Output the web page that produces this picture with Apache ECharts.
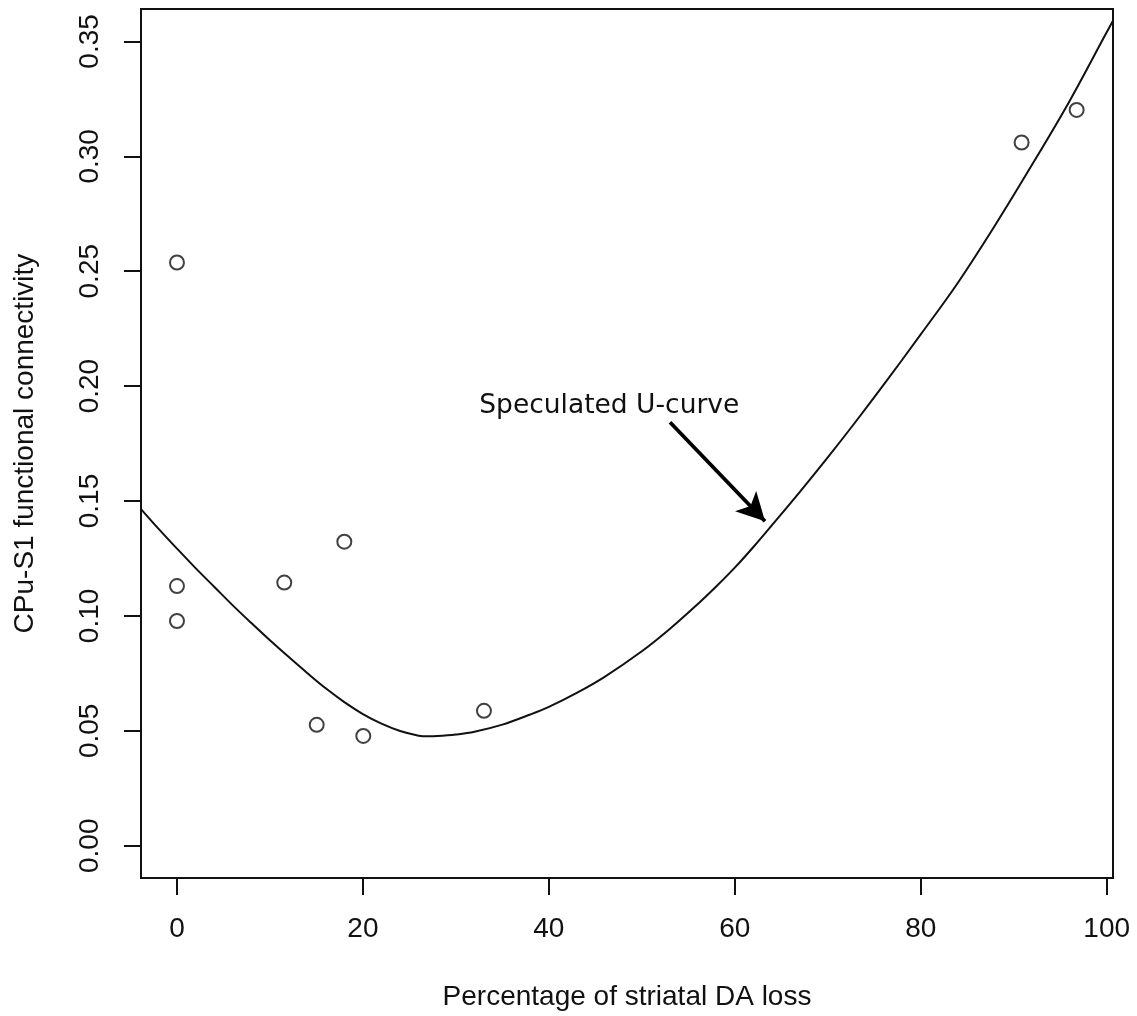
<!DOCTYPE html>
<html><head><meta charset="utf-8">
<script src="https://cdn.jsdelivr.net/npm/echarts@6/dist/echarts.min.js"></script>
<style>html,body{margin:0;padding:0;background:#fff}#c{width:1137px;height:1016px}</style>
</head><body><div id="c"></div>
<script>
// observed points
const pointsX = [0, 0, 0, 11.54, 15.03, 18.0, 20.04, 33.02, 90.85, 96.77];
const pointsY = [0.2538, 0.1130, 0.0978, 0.1145, 0.0526, 0.1323, 0.0478, 0.0587, 0.3060, 0.3202];
// speculated U-curve
const curveX = [-3.87,-2,0,2,4,6,8,10,12,14,16,18,20,22,24,26,27,28,30,32,35,38,40,43,46,50,53,56,58,60,62,64,67,70,73,76,80,84,88,92,96,100,100.68];
const curveY = [0.1465,0.1380,0.1293,0.1208,0.1127,0.1046,0.0969,0.0894,0.0822,0.0752,0.0685,0.0625,0.0573,0.0531,0.0499,0.0479,0.0476,0.0477,0.0484,0.0496,0.0527,0.0571,0.0604,0.0665,0.0735,0.0846,0.0943,0.1051,0.1128,0.1210,0.1300,0.1395,0.1540,0.1690,0.1845,0.2005,0.2225,0.2450,0.2700,0.2965,0.3240,0.3540,0.3590];
// ticks
const xTicks = [0, 20, 40, 60, 80, 100];
const yTicks = [0, 0.05, 0.10, 0.15, 0.20, 0.25, 0.30, 0.35];
// labels
const xTitle = 'Percentage of striatal DA loss';
const yTitle = 'CPu-S1 functional connectivity';
const annotationText = 'Speculated U-curve';
const annotationAt = [46.5, 0.1915];
const arrowFrom = [53.03, 0.1843];
const arrowTo = [63.25, 0.1412];

const ink = '#111111';
const axisFont = "'Liberation Sans', Arial, Helvetica, sans-serif";

const chart = echarts.init(document.getElementById('c'), null, {renderer: 'canvas'});
chart.setOption({
  animation: false,
  backgroundColor: '#ffffff',
  grid: {left: 141, right: 24, top: 9, bottom: 137, show: true, borderColor: ink, borderWidth: 2, containLabel: false},
  xAxis: {
    type: 'value', min: -3.87, max: 100.68,
    name: xTitle, nameLocation: 'middle', nameGap: 105,
    nameTextStyle: {fontFamily: axisFont, fontSize: 28, color: ink},
    axisLine: {show: true, onZero: false, lineStyle: {color: ink, width: 2}},
    axisTick: {show: true, length: 17, lineStyle: {color: ink, width: 2}, customValues: xTicks},
    axisLabel: {show: true, margin: 37, fontFamily: axisFont, fontSize: 28, color: ink, customValues: xTicks},
    splitLine: {show: false}
  },
  yAxis: {
    type: 'value', min: -0.01404, max: 0.3641,
    name: yTitle, nameLocation: 'middle', nameGap: 102, nameRotate: 90,
    nameTextStyle: {fontFamily: axisFont, fontSize: 28, color: ink},
    axisLine: {show: true, onZero: false, lineStyle: {color: ink, width: 2}},
    axisTick: {show: true, length: 17, lineStyle: {color: ink, width: 2}, customValues: yTicks},
    axisLabel: {show: true, rotate: 90, margin: 37, fontFamily: axisFont, fontSize: 28, color: ink,
      customValues: yTicks, formatter: v => Number(v).toFixed(2)},
    splitLine: {show: false}
  },
  series: [
    {
      type: 'line', name: 'curve',
      data: curveX.map((x, i) => [x, curveY[i]]),
      showSymbol: false, smooth: 0.35, clip: true,
      lineStyle: {color: ink, width: 2},
      markLine: {
        silent: true, animation: false,
        symbol: ['none', 'arrow'], symbolSize: [22, 28],
        lineStyle: {color: '#000', width: 3.8, type: 'solid'},
        label: {show: false},
        data: [[{coord: arrowFrom}, {coord: arrowTo}]]
      },
      markPoint: {
        silent: true, animation: false,
        symbol: 'rect', symbolSize: 1, itemStyle: {color: 'rgba(0,0,0,0)'},
        label: {show: true, position: 'inside', formatter: annotationText,
          fontFamily: "'DejaVu Sans', sans-serif", fontSize: 26.5, color: ink},
        data: [{coord: annotationAt, value: 0}]
      }
    },
    {
      type: 'scatter', name: 'points',
      data: pointsX.map((x, i) => [x, pointsY[i]]),
      symbol: 'circle', symbolSize: 14,
      itemStyle: {color: 'rgba(0,0,0,0)', borderColor: ink, borderWidth: 2}
    }
  ]
});
</script>
</body></html>
